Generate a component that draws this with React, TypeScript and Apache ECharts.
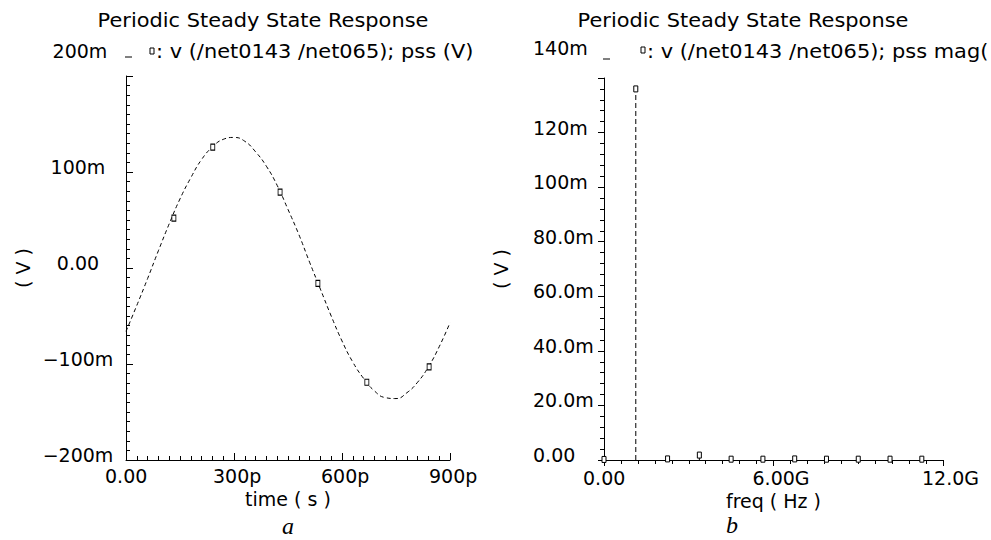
import React, { useEffect, useRef } from "react";
import * as echarts from "echarts";

// ---- Data ----
// Panel a: PSS time-domain waveform, time in ps, voltage in mV
const timePs = [0, 30, 60, 90, 120, 150, 180, 210, 240, 270, 300, 330, 360, 390, 420, 450, 480, 510, 540, 570, 600, 630, 660, 690, 720, 750, 780, 810, 840, 870, 900];
const voltageMv = [-66, -39, -11, 18, 46, 72, 94, 113, 126, 134, 136, 132, 121, 106, 86, 61, 35, 6, -22, -50, -76, -98, -115, -128, -135, -136, -130, -119, -103, -82, -57];
const markerTimePs = [133, 241, 428, 533, 669, 842];
const markerVoltageMv = [52, 126, 79, -16, -119, -103];

// Panel b: PSS harmonics, frequency in GHz, magnitude in mV
const harmonicFreqGHz = [0, 1.125, 2.25, 3.375, 4.5, 5.625, 6.75, 7.875, 9.0, 10.125, 11.25];
const harmonicMagMv = [0.2, 136, 0.4, 1.8, 0.3, 0.3, 0.4, 0.3, 0.3, 0.3, 0.3];

// Tick labels
const aXTicks = [0, 300, 600, 900];
const aXTickLabels = ["0.00", "300p", "600p", "900p"];
const aYTicks = [-200, -100, 0, 100, 200];
const aYTickLabels = ["\u2212200m", "\u2212100m", "0.00", "100m", "200m"];
const bXTicks = [0, 6, 12];
const bXTickLabels = ["0.00", "6.00G", "12.0G"];
const bYTicks = [0, 20, 40, 60, 80, 100, 120, 140];
const bYTickLabels = ["0.00", "20.0m", "40.0m", "60.0m", "80.0m", "100m", "120m", "140m"];

const FONT = '"DejaVu Sans", "Noto Sans", sans-serif';
const FS = 19;

function lookup(ticks: number[], labels: string[], v: number) {
  for (let i = 0; i < ticks.length; i++) {
    if (Math.abs(ticks[i] - v) < 1e-6) return labels[i];
  }
  return "";
}

export default function App() {
  const ref = useRef<HTMLDivElement>(null);

  useEffect(() => {
    if (!ref.current) return;
    const chart = echarts.init(ref.current, undefined, { renderer: "svg" });

    const axisLine = { show: true, onZero: false, lineStyle: { color: "#000", width: 1 } };
    const xRich = {
      l: { width: 42, align: "left", fontSize: FS, fontFamily: FONT, color: "#000" },
    };
    const yRich = {
      l: { padding: [0, 0, 10, 0], fontSize: FS, fontFamily: FONT, color: "#000" },
    };

    const txt = (text: string, x: number, y: number, align: string, opts: any = {}) => ({
      type: "text",
      x,
      y,
      scaleX: opts.scaleX ?? 1,
      style: {
        text,
        fill: "#000",
        font: opts.font ?? `${FS}px ${FONT}`,
        align,
        verticalAlign: "middle",
      },
    });

    const option: any = {
      animation: false,
      backgroundColor: "#fff",
      grid: [
        { left: 126, top: 76, width: 324, height: 384, containLabel: false },
        { left: 604, top: 78, width: 339, height: 382, containLabel: false },
      ],
      xAxis: [
        {
          type: "value",
          gridIndex: 0,
          min: 0,
          max: 900,
          interval: 300,
          axisLine,
          splitLine: { show: false },
          axisTick: { show: true, inside: true, length: 7, lineStyle: { color: "#000" } },
          minorTick: { show: true, splitNumber: 10, length: 4, lineStyle: { color: "#000" } },
          axisLabel: {
            margin: 6,
            formatter: (v: number) => `{l|${lookup(aXTicks, aXTickLabels, v)}}`,
            rich: xRich,
          },
          name: "time ( s )",
          nameLocation: "middle",
          nameGap: 27,
          nameTextStyle: { color: "#000", fontSize: FS, fontFamily: FONT },
        },
        {
          type: "value",
          gridIndex: 1,
          min: 0,
          max: 12,
          interval: 6,
          axisLine,
          splitLine: { show: false },
          axisTick: { show: true, inside: false, length: 6, lineStyle: { color: "#000" } },
          minorTick: { show: true, splitNumber: 10, length: 4, lineStyle: { color: "#000" } },
          axisLabel: {
            margin: 8,
            formatter: (v: number) => `{l|${lookup(bXTicks, bXTickLabels, v)}}`,
            rich: xRich,
          },
          name: "freq ( Hz )",
          nameLocation: "middle",
          nameGap: 30,
          nameTextStyle: { color: "#000", fontSize: FS, fontFamily: FONT },
        },
      ],
      yAxis: [
        {
          type: "value",
          gridIndex: 0,
          min: -200,
          max: 200,
          interval: 100,
          axisLine,
          splitLine: { show: false },
          axisTick: { show: true, inside: true, length: 7, lineStyle: { color: "#000" } },
          minorTick: { show: true, splitNumber: 10, length: 4, lineStyle: { color: "#000" } },
          axisLabel: {
            showMaxLabel: false,
            margin: 48,
            align: "center",
            verticalAlign: "middle",
            formatter: (v: number) => `{l|${lookup(aYTicks, aYTickLabels, v)}}`,
            rich: yRich,
          },
          name: "( V )",
          nameLocation: "middle",
          nameRotate: 90,
          nameGap: 94,
          nameTextStyle: { color: "#000", fontSize: FS, fontFamily: FONT },
        },
        {
          type: "value",
          gridIndex: 1,
          min: 0,
          max: 140,
          interval: 20,
          axisLine,
          splitLine: { show: false },
          axisTick: { show: true, inside: false, length: 6, lineStyle: { color: "#000" } },
          minorTick: { show: true, splitNumber: 5, length: 4, lineStyle: { color: "#000" } },
          axisLabel: {
            showMaxLabel: false,
            margin: 71,
            align: "left",
            verticalAlign: "middle",
            formatter: (v: number) => `{l|${lookup(bYTicks, bYTickLabels, v)}}`,
            rich: yRich,
          },
          name: "( V )",
          nameLocation: "middle",
          nameRotate: 90,
          nameGap: 94,
          nameTextStyle: { color: "#000", fontSize: FS, fontFamily: FONT },
        },
      ],
      series: [
        {
          type: "line",
          xAxisIndex: 0,
          yAxisIndex: 0,
          data: timePs.map((t, i) => [t, voltageMv[i]]),
          smooth: true,
          showSymbol: false,
          lineStyle: { color: "#000", width: 1, type: [4, 3] },
        },
        {
          type: "scatter",
          xAxisIndex: 0,
          yAxisIndex: 0,
          data: markerTimePs.map((t, i) => [t, markerVoltageMv[i]]),
          symbol: "rect",
          symbolSize: [4, 6],
          itemStyle: { color: "#fff", borderColor: "#000", borderWidth: 1, opacity: 1 },
          z: 5,
        },
        {
          type: "custom",
          xAxisIndex: 1,
          yAxisIndex: 1,
          data: harmonicFreqGHz.map((f, i) => [f, harmonicMagMv[i]]),
          encode: { x: 0, y: 1 },
          clip: false,
          renderItem: (params: any, api: any) => {
            const f = api.value(0);
            const m = api.value(1);
            const top = api.coord([f, m]);
            const base = api.coord([f, 0]);
            return {
              type: "group",
              children: [
                {
                  type: "line",
                  shape: { x1: base[0], y1: base[1], x2: top[0], y2: top[1] },
                  style: { stroke: "#000", lineWidth: 1, lineDash: [5, 3] },
                },
                {
                  type: "rect",
                  shape: { x: top[0] - 2, y: top[1] - 3, width: 4, height: 6 },
                  style: { fill: "#fff", stroke: "#000", lineWidth: 1 },
                },
              ],
            };
          },
        },
      ],
      graphic: [
        txt("Periodic Steady State Response", 263, 20, "center", { scaleX: 1.1 }),
        txt("Periodic Steady State Response", 743, 20, "center", { scaleX: 1.1 }),
        txt("200m", 80, 51, "center"),
        txt("140m", 533, 48, "left"),
        { type: "line", shape: { x1: 125, y1: 57, x2: 132, y2: 57 }, style: { stroke: "#000", lineWidth: 1 } },
        { type: "line", shape: { x1: 603, y1: 59, x2: 610, y2: 59 }, style: { stroke: "#000", lineWidth: 1 } },
        { type: "rect", shape: { x: 150, y: 48, width: 4, height: 6 }, style: { fill: "#fff", stroke: "#000", lineWidth: 1 } },
        { type: "rect", shape: { x: 641, y: 47, width: 4, height: 6 }, style: { fill: "#fff", stroke: "#000", lineWidth: 1 } },
        txt(": v (/net0143 /net065); pss (V)", 156, 51, "left", { scaleX: 1.1 }),
        txt(": v (/net0143 /net065); pss mag(", 647, 51, "left", { scaleX: 1.1 }),
        txt("a", 288, 526, "center", { font: 'italic 24px "Liberation Serif", serif' }),
        txt("b", 732, 525, "center", { font: 'italic 24px "Liberation Serif", serif' }),
      ],
    };

    chart.setOption(option);
    return () => chart.dispose();
  }, []);

  return (
    <div
      ref={ref}
      style={{ position: "fixed", left: 0, top: 0, width: 991, height: 540, background: "#fff" }}
    />
  );
}
